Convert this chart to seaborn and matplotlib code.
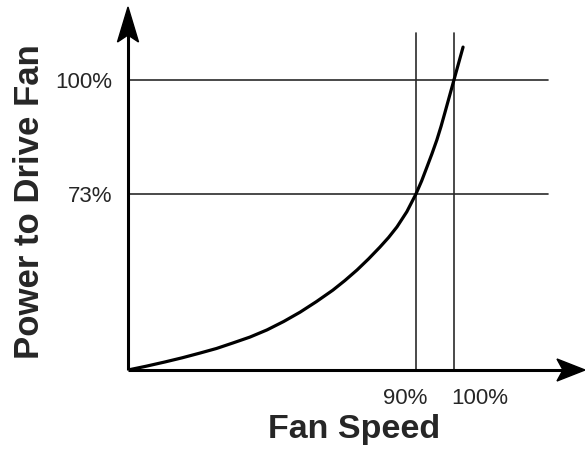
import matplotlib
matplotlib.use("Agg")
import matplotlib.pyplot as plt
from matplotlib.patches import Polygon
import seaborn as sns

# curve (fan speed %, power %)
speed = [14.2, 19.0, 23.9, 28.5, 33.1, 37.5, 41.8, 46.3, 50.8, 55.2,
         59.5, 63.8, 68.1, 71.3, 74.5, 77.5, 80.5, 82.8, 85.0, 87.6,
         90.0, 91.5, 92.9, 94.2, 95.5, 96.6, 97.6, 98.8, 100.0, 101.2, 102.4]
power = [31.3, 32.2, 33.2, 34.2, 35.3, 36.4, 37.7, 39.1, 40.8, 42.8,
         45.0, 47.5, 50.2, 52.5, 55.0, 57.6, 60.4, 62.7, 65.2, 68.8,
         73.0, 76.1, 79.4, 82.5, 85.8, 89.0, 92.2, 96.1, 100.0, 103.9, 107.8]

# reference lines and their labels
ref_speed = [90, 100]
ref_speed_labels = ["90%", "100%"]
ref_power = [73, 100]
ref_power_labels = ["73%", "100%"]

sns.set_style("white")
plt.rcParams["font.family"] = ["Liberation Sans", "DejaVu Sans"]

fig = plt.figure(figsize=(5.85, 4.5), dpi=100)
ax = fig.add_axes([128 / 585, 80 / 450, 457 / 585, 363 / 450])

# reference grid lines
for p in ref_power:
    ax.axhline(p, xmin=0, xmax=0.919, color="#2a2a2a", lw=1.2, zorder=1)
for s in ref_speed:
    ax.axvline(s, ymin=0, ymax=0.928, color="#2a2a2a", lw=1.2, zorder=1)

sns.lineplot(x=speed, y=power, ax=ax, color="black", lw=2.3, zorder=3)
ax.lines[-1].set_solid_joinstyle("round")

ax.set_xlim(14.2, 134.5)
ax.set_ylim(31.3, 117.3)

for sp in ax.spines.values():
    sp.set_visible(False)

# axis lines with arrows
ax.plot([0, 0], [0, 0.925], transform=ax.transAxes, color="black", lw=2.2,
        clip_on=False, solid_capstyle="butt", zorder=4)
ax.plot([0, 0.952], [0, 0], transform=ax.transAxes, color="black", lw=2.2,
        clip_on=False, solid_capstyle="butt", zorder=4)
ax.add_patch(Polygon([[0, 1], [-0.023, 0.9036], [0, 0.9229], [0.023, 0.9036]],
                     closed=True, transform=ax.transAxes, color="black",
                     clip_on=False, zorder=5))
ax.add_patch(Polygon([[1, 0], [0.9387, 0.0303], [0.9519, 0], [0.9387, -0.0303]],
                     closed=True, transform=ax.transAxes, color="black",
                     clip_on=False, zorder=5))

ax.set_xticks([])
ax.set_yticks(ref_power)
ax.set_yticklabels(ref_power_labels)
ax.tick_params(axis="y", length=0, pad=11, labelsize=16)

# x labels sit a bit off the lines in the original
offsets = [-2.9, 6.8]
for s, lab, off in zip(ref_speed, ref_speed_labels, offsets):
    ax.text(s + off, -0.094, lab, transform=ax.get_xaxis_transform(),
            ha="center", va="baseline", fontsize=16)

fig.text(354 / 585, 12 / 450, "Fan Speed", ha="center", va="baseline",
         fontsize=24.5, fontweight="bold")
fig.text(30 / 585, 248 / 450, "Power to Drive Fan", ha="center", va="center",
         rotation=90, fontsize=25, fontweight="bold")

fig.savefig("out.png", dpi=100)
